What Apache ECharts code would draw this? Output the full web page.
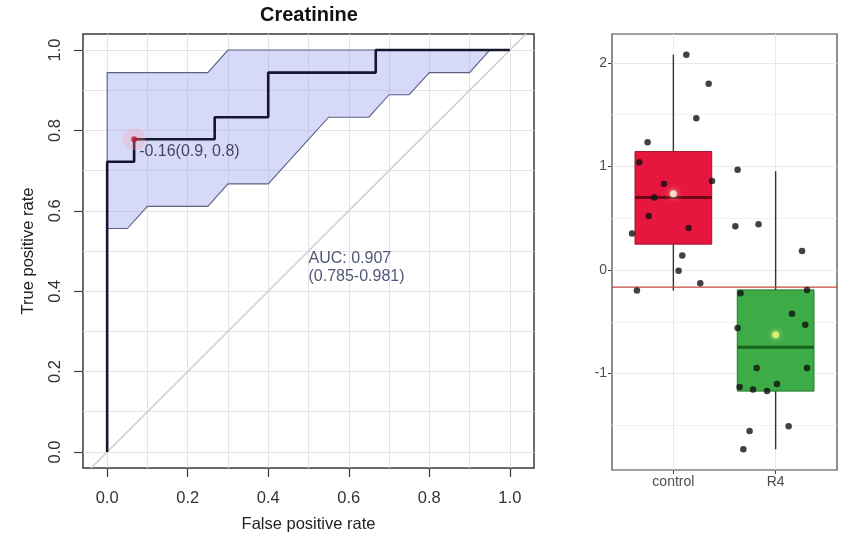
<!DOCTYPE html>
<html><head><meta charset="utf-8">
<script src="https://cdn.jsdelivr.net/npm/echarts@6/dist/echarts.min.js"></script>
<style>html,body{margin:0;padding:0;background:#fff}#c{width:844px;height:538px}</style>
</head><body><div id="c"></div>
<script>
// ---------- ROC panel data ----------
const rocTicks = [0, 0.2, 0.4, 0.6, 0.8, 1.0];
const rocGridVals = [0, 0.1, 0.2, 0.3, 0.4, 0.5, 0.6, 0.7, 0.8, 0.9, 1.0];
const rocFpr = [0, 0, 0.067, 0.067, 0.267, 0.267, 0.4, 0.4, 0.667, 0.667, 1.0];
const rocTpr = [0, 0.722, 0.722, 0.778, 0.778, 0.833, 0.833, 0.944, 0.944, 1.0, 1.0];
const ciUpperFpr = [0, 0.25, 0.30, 1.0];
const ciUpperTpr = [0.944, 0.944, 1.0, 1.0];
const ciLowerFpr = [0, 0.05, 0.10, 0.25, 0.30, 0.40, 0.55, 0.65, 0.70, 0.75, 0.80, 0.90, 0.95, 1.0];
const ciLowerTpr = [0.556, 0.556, 0.611, 0.611, 0.667, 0.667, 0.833, 0.833, 0.889, 0.889, 0.944, 0.944, 1.0, 1.0];
const diagFpr = [-0.04, 1.04];
const diagTpr = [-0.04, 1.04];
const bestFpr = 0.067, bestTpr = 0.778;
const bestLabel = '-0.16(0.9, 0.8)';
const aucLines = ['AUC: 0.907', '(0.785-0.981)'];
const aucPos = [0.5, 0.458];

// ---------- Box panel data ----------
const groups = ['control', 'R4'];
const controlX = [1.127, 1.345, 1.224, 0.748, 0.667, 0.908, 1.378, 0.814, 0.758, 0.596, 1.149, 1.087, 1.051, 1.263, 0.644];
const controlY = [2.08, 1.80, 1.465, 1.234, 1.04, 0.833, 0.859, 0.70, 0.522, 0.353, 0.407, 0.141, -0.007, -0.128, -0.199];
const r4X = [1.628, 1.606, 1.833, 2.258, 1.657, 2.307, 2.160, 2.290, 1.628, 1.814, 2.307, 1.648, 1.779, 1.916, 2.013, 2.127, 1.745, 1.684];
const r4Y = [0.968, 0.423, 0.442, 0.183, -0.224, -0.192, -0.423, -0.529, -0.561, -0.946, -0.946, -1.13, -1.154, -1.17, -1.10, -1.51, -1.555, -1.731];
const boxLow = [-0.199, -1.731];
const boxQ1 = [0.25, -1.17];
const boxMed = [0.70, -0.747];
const boxQ3 = [1.144, -0.192];
const boxHigh = [2.08, 0.955];
const groupMean = [0.737, -0.625];
const cutoff = -0.165;
const boxTicks = [-1, 0, 1, 2];
const boxMinor = [-1.5, -0.5, 0.5, 1.5];
const groupPos = [1, 2];

const FONT = 'Liberation Sans, Arial, sans-serif';
const boxFill = ['#e6163f', '#3dab46'];
const boxBorder = ['#a50f2c', '#237a2b'];
const medColor = ['#6e0818', '#17621e'];
const meanColor = ['#fffbe6', '#eefc6a'];

const chart = echarts.init(document.getElementById('c'), null, {renderer: 'canvas'});

const rocLine = rocFpr.map((v, i) => [v, rocTpr[i]]);
const upper = ciUpperFpr.map((v, i) => [v, ciUpperTpr[i]]);
const lower = ciLowerFpr.map((v, i) => [v, ciLowerTpr[i]]);

const option = {
  animation: false,
  backgroundColor: '#ffffff',
  textStyle: {fontFamily: FONT},
  title: {
    text: 'Creatinine', left: 260, top: 5, padding: 0,
    textStyle: {fontSize: 20, fontWeight: 'bold', color: '#111', fontFamily: FONT}
  },
  grid: [
    {left: 83, top: 34, width: 451, height: 434, show: true, borderColor: '#3a3a3a', borderWidth: 1.5, backgroundColor: '#fff'},
    {left: 612, top: 34, width: 225, height: 436, show: true, borderColor: '#444', borderWidth: 1.2, backgroundColor: '#fff'}
  ],
  xAxis: [
    {
      gridIndex: 0, type: 'value', min: -0.06, max: 1.06,
      axisLine: {show: false, onZero: false},
      axisTick: {show: true, customValues: rocTicks, length: 9, lineStyle: {color: '#3a3a3a', width: 1.2}},
      axisLabel: {customValues: rocTicks, formatter: v => v.toFixed(1), fontSize: 16.5, color: '#333', margin: 22},
      splitLine: {show: false},
      name: 'False positive rate', nameLocation: 'middle', nameGap: 48,
      nameTextStyle: {fontSize: 16.5, color: '#222'}
    },
    {
      gridIndex: 0, type: 'value', min: -0.06, max: 1.06, position: 'top',
      axisLine: {show: false, onZero: false},
      axisTick: {show: false, customValues: rocGridVals},
      axisLabel: {show: false},
      splitLine: {show: true, lineStyle: {color: '#e4e4e4', width: 1}}
    },
    {
      gridIndex: 1, type: 'value', min: 0.4, max: 2.6,
      axisLine: {show: false, onZero: false},
      axisTick: {show: true, customValues: groupPos, length: 4, lineStyle: {color: '#444'}},
      axisLabel: {customValues: groupPos, formatter: v => groups[Math.round(v) - 1], fontSize: 14, color: '#4d4d4d', margin: 5},
      splitLine: {show: true, lineStyle: {color: '#e8e8e8', width: 1}}
    }
  ],
  yAxis: [
    {
      gridIndex: 0, type: 'value', min: -0.04, max: 1.04,
      axisLine: {show: false, onZero: false},
      axisTick: {show: true, customValues: rocTicks, length: 9, lineStyle: {color: '#3a3a3a', width: 1.2}},
      axisLabel: {customValues: rocTicks, formatter: v => v.toFixed(1), fontSize: 16.5, color: '#333', margin: 19, rotate: 90},
      splitLine: {show: false},
      name: 'True positive rate', nameLocation: 'middle', nameGap: 46,
      nameTextStyle: {fontSize: 16.5, color: '#222'}
    },
    {
      gridIndex: 0, type: 'value', min: -0.04, max: 1.04, position: 'right',
      axisLine: {show: false, onZero: false},
      axisTick: {show: false, customValues: rocGridVals},
      axisLabel: {show: false},
      splitLine: {show: true, lineStyle: {color: '#e4e4e4', width: 1}}
    },
    {
      gridIndex: 1, type: 'value', min: -1.932, max: 2.28,
      axisLine: {show: false, onZero: false},
      axisTick: {show: true, customValues: boxTicks, length: 4, lineStyle: {color: '#444'}},
      axisLabel: {customValues: boxTicks, formatter: v => String(v), fontSize: 14, color: '#4d4d4d', margin: 5},
      splitLine: {show: true, lineStyle: {color: '#e8e8e8', width: 1}}
    },
    {
      gridIndex: 1, type: 'value', min: -1.932, max: 2.28, position: 'right',
      axisLine: {show: false, onZero: false},
      axisTick: {show: false, customValues: boxMinor},
      axisLabel: {show: false},
      splitLine: {show: true, lineStyle: {color: '#f2f2f2', width: 1}}
    }
  ],
  series: [
    {
      type: 'custom', xAxisIndex: 0, yAxisIndex: 0, z: 2,
      data: [[0, 0]],
      renderItem: (params, api) => {
        const pts = upper.map(p => api.coord(p)).concat(lower.slice().reverse().map(p => api.coord(p)));
        return {type: 'polygon', shape: {points: pts},
          style: {fill: 'rgba(165,172,240,0.45)', stroke: '#5c6184', lineWidth: 1.1}};
      }
    },
    {
      type: 'line', xAxisIndex: 0, yAxisIndex: 0, z: 3, symbol: 'none',
      data: diagFpr.map((v, i) => [v, diagTpr[i]]),
      lineStyle: {color: '#cfcfcf', width: 1.6}
    },
    {
      type: 'line', xAxisIndex: 0, yAxisIndex: 0, z: 4, symbol: 'none',
      data: rocLine,
      lineStyle: {color: '#15152e', width: 2.6}
    },
    {
      type: 'scatter', xAxisIndex: 0, yAxisIndex: 0, z: 5,
      data: [[bestFpr, bestTpr]], symbolSize: 22,
      itemStyle: {color: 'rgba(255,150,170,0.35)'}
    },
    {
      type: 'scatter', xAxisIndex: 0, yAxisIndex: 0, z: 6,
      data: [[bestFpr, bestTpr]], symbolSize: 6,
      itemStyle: {color: '#c0182e'},
      label: {show: true, formatter: bestLabel, position: 'right', distance: 2, offset: [0, 12],
        fontSize: 16, color: '#1c1c34', fontFamily: FONT}
    },
    {
      type: 'scatter', xAxisIndex: 0, yAxisIndex: 0, z: 6,
      data: [aucPos], symbolSize: 0, itemStyle: {color: 'rgba(0,0,0,0)'},
      label: {show: true, formatter: aucLines.join('\n'), position: 'right', distance: 0,
        fontSize: 16, lineHeight: 18, color: '#262a55', fontFamily: FONT, align: 'left'}
    },
    {
      type: 'custom', xAxisIndex: 2, yAxisIndex: 2, z: 2,
      data: groupPos.map((g, i) => [g, boxLow[i], boxQ1[i], boxMed[i], boxQ3[i], boxHigh[i]]),
      encode: {x: 0, y: [1, 2, 3, 4, 5]},
      renderItem: (params, api) => {
        const i = params.dataIndex;
        const g = api.value(0);
        const lo = api.coord([g, api.value(1)]);
        const q1 = api.coord([g, api.value(2)]);
        const md = api.coord([g, api.value(3)]);
        const q3 = api.coord([g, api.value(4)]);
        const hi = api.coord([g, api.value(5)]);
        const hw = api.size([0.75, 0])[0] / 2;
        return {type: 'group', children: [
          {type: 'line', shape: {x1: hi[0], y1: hi[1], x2: lo[0], y2: lo[1]}, style: {stroke: '#333', lineWidth: 1.4}},
          {type: 'rect', shape: {x: q3[0] - hw, y: q3[1], width: hw * 2, height: q1[1] - q3[1]},
            style: {fill: boxFill[i], stroke: boxBorder[i], lineWidth: 1}},
          {type: 'line', shape: {x1: md[0] - hw, y1: md[1], x2: md[0] + hw, y2: md[1]},
            style: {stroke: medColor[i], lineWidth: 3}}
        ]};
      }
    },
    {
      type: 'line', xAxisIndex: 2, yAxisIndex: 2, z: 3, symbol: 'none',
      data: [[0.4, cutoff], [2.6, cutoff]],
      lineStyle: {color: '#c4473f', width: 1.4}
    },
    {
      type: 'scatter', xAxisIndex: 2, yAxisIndex: 2, z: 4, symbolSize: 6.5,
      data: controlX.map((v, i) => [v, controlY[i]]),
      itemStyle: {color: '#111'}
    },
    {
      type: 'scatter', xAxisIndex: 2, yAxisIndex: 2, z: 4, symbolSize: 6.5,
      data: r4X.map((v, i) => [v, r4Y[i]]),
      itemStyle: {color: '#111'}
    },
    {
      type: 'scatter', xAxisIndex: 2, yAxisIndex: 2, z: 5, symbolSize: 7,
      data: groupPos.map((g, i) => ({value: [g, groupMean[i]], itemStyle: {color: meanColor[i]}})),
      itemStyle: {shadowBlur: 6, shadowColor: 'rgba(255,255,190,0.95)'}
    }
  ]
};
chart.setOption(option);
</script>
</body></html>
